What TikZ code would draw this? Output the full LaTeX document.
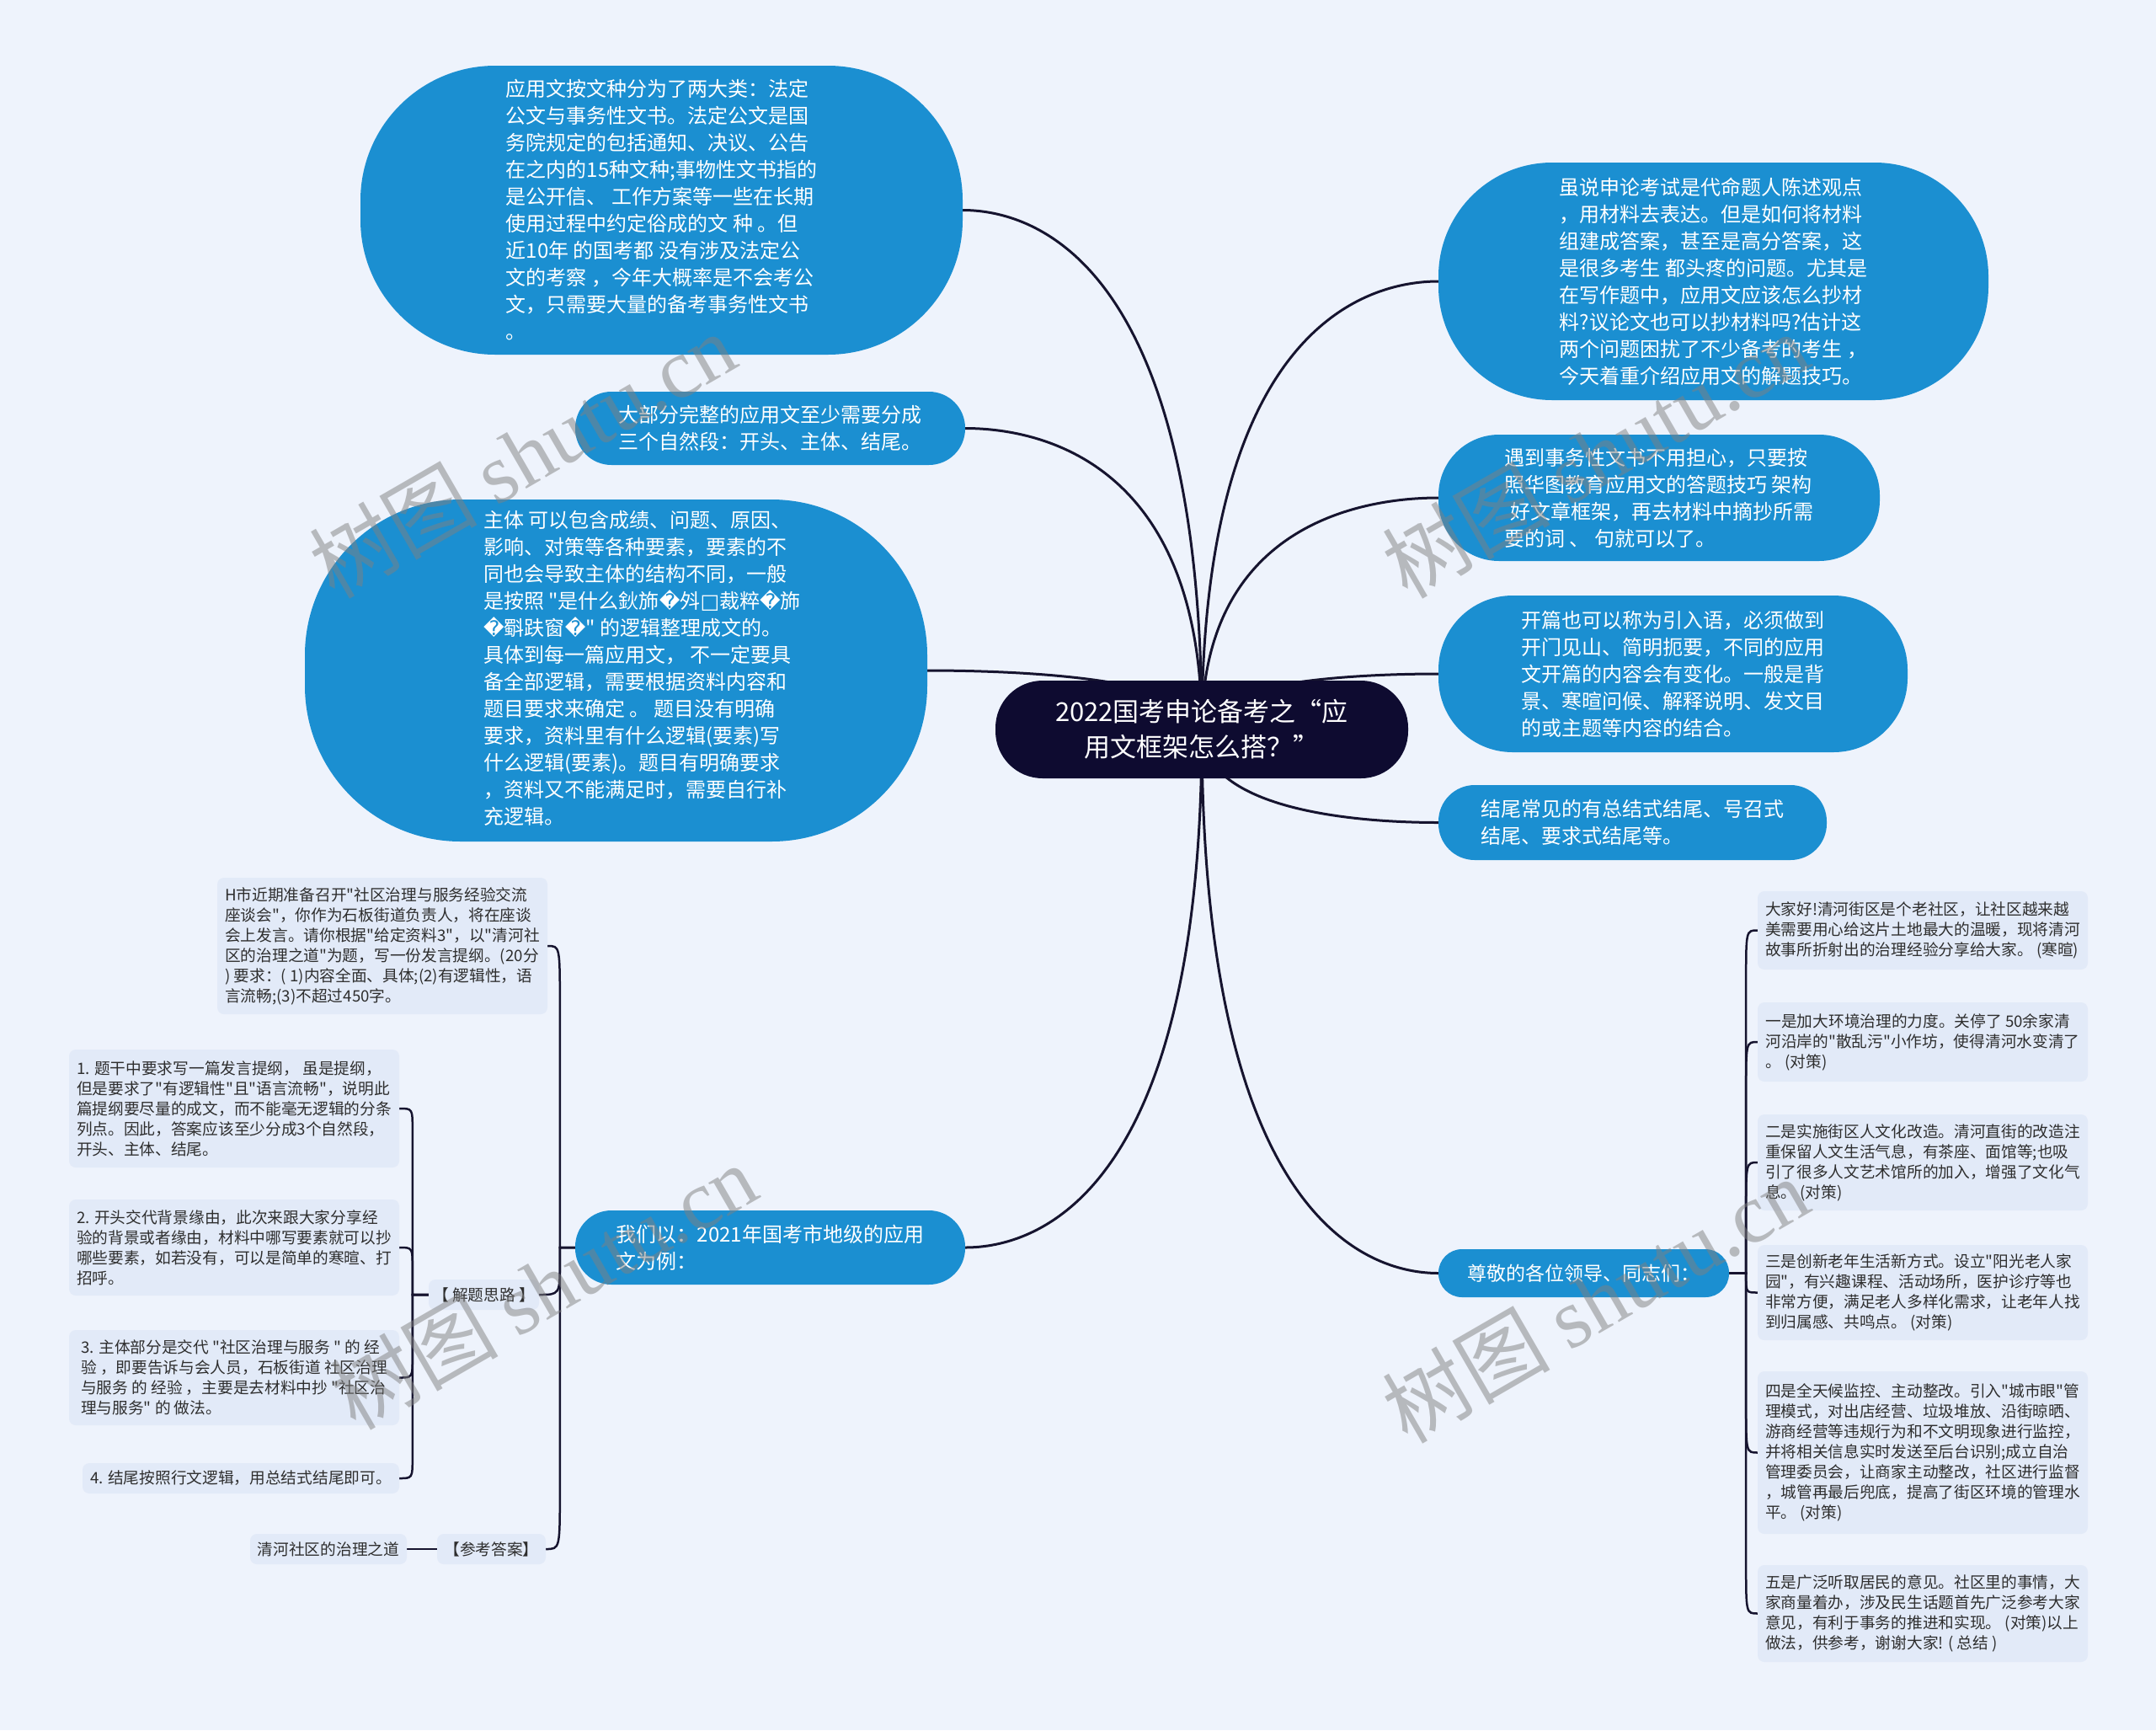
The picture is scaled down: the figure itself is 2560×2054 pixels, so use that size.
\documentclass[tikz,border=0pt]{standalone}
\usepackage{fontspec}
\newfontfamily\cjk{Noto Sans CJK SC}
\setmainfont{Noto Sans CJK SC}
\newfontfamily\dejavu{DejaVu Sans}
\newfontfamily\wmlatin{Liberation Serif}
\usetikzlibrary{calc}
\definecolor{bgc}{HTML}{EEF3FC}
\definecolor{bubc}{HTML}{1B8FD1}
\definecolor{rootc}{HTML}{0E0B30}
\definecolor{leafc}{HTML}{E2EAF8}
\definecolor{linec}{HTML}{16142F}
\definecolor{txtc}{HTML}{2E2E2E}
\pgfdeclarelayer{bgl}
\pgfdeclarelayer{lnl}
\pgfsetlayers{bgl,lnl,main}
\newcommand\repch{{\dejavu\char"FFFD}}
\newcommand\tofuch{{\dejavu\char"25A1}}
\newcommand\rbranch[2]{\draw[link] (#1) .. controls ($(#1)!0.9!(#1 |- #2)$) and ($(#2)!0.3!(#2 -| #1)$) .. (#2);}
\newcommand\sbranch[4]{\draw[sublink] (#1) -- (#2) -- ($(#2 |- #3)+(0,#4)$) .. controls (#2 |- #3) .. (#3);}
\begin{document}
\begin{tikzpicture}[x=1pt,y=-1pt,
  bub/.style={fill=bubc,text=white,align=left,inner sep=0pt,font=\cjk\fontsize{24}{32}\selectfont},
  rootn/.style={fill=rootc,text=white,align=center,inner sep=0pt,rounded corners=56pt,minimum width=490pt,minimum height=116pt,font=\cjk\fontsize{31}{42}\selectfont},
  leaf/.style={fill=leafc,text=txtc,align=left,inner sep=0pt,rounded corners=8pt,font=\cjk\fontsize{18.7}{24}\selectfont},
  link/.style={draw=linec,line width=3pt},
  sublink/.style={draw=linec,line width=2.5pt},
  wm/.style={text=gray,text opacity=0.5,rotate=30,font=\cjk\fontsize{100}{100}\selectfont}
]
\begin{pgfonlayer}{bgl}
\fill[bgc] (0,0) rectangle (2560,2054);
\end{pgfonlayer}
\useasboundingbox (0,0) rectangle (2560,2054);

% root
\node[rootn] (root) at (1427,866) {2022国考申论备考之“应\\用文框架怎么搭？”};

% left bubbles
\node[bub,minimum width=715pt,minimum height=343pt,rounded corners=160pt] (b1) at (785.5,249.5) {应用文按文种分为了两大类：法定\\公文与事务性文书。法定公文是国\\务院规定的包括通知、决议、公告\\在之内的15种文种;事物性文书指的\\是公开信、 工作方案等一些在长期\\使用过程中约定俗成的文 种 。但\\近10年 的国考都 没有涉及法定公\\文的考察 ，今年大概率是不会考公\\文，只需要大量的备考事务性文书\\。};
\node[bub,minimum width=463pt,minimum height=87pt,rounded corners=43pt] (b2) at (914.5,508.5) {大部分完整的应用文至少需要分成\\三个自然段：开头、主体、结尾。};
\node[bub,minimum width=739pt,minimum height=406pt,rounded corners=185pt] (b3) at (731.5,796) {\hspace*{62pt}\begin{tabular}{@{}l@{}}主体 可以包含成绩、问题、原因、\\影响、对策等各种要素，要素的不\\同也会导致主体的结构不同，一般\\是按照 "是什么鈥斾\repch{}斘\tofuch{}裁粹\repch{}斾\\\repch{}斣趺窗\repch{}" 的逻辑整理成文的。\\具体到每一篇应用文， 不一定要具\\备全部逻辑，需要根据资料内容和\\题目要求来确定 。 题目没有明确\\要求，资料里有什么逻辑(要素)写\\什么逻辑(要素)。题目有明确要求\\，资料又不能满足时，需要自行补\\充逻辑。\end{tabular}};
\node[bub,minimum width=463pt,minimum height=88pt,rounded corners=43pt] (b4) at (914.5,1481) {我们以：2021年国考市地级的应用\\文为例：};

% right bubbles
\node[bub,minimum width=653pt,minimum height=282pt,rounded corners=135pt] (b5) at (2034.5,334) {虽说申论考试是代命题人陈述观点\\，用材料去表达。但是如何将材料\\组建成答案，甚至是高分答案，这\\是很多考生 都头疼的问题。尤其是\\在写作题中，应用文应该怎么抄材\\料?议论文也可以抄材料吗?估计这\\两个问题困扰了不少备考的考生 ，\\今天着重介绍应用文的解题技巧。};
\node[bub,minimum width=524pt,minimum height=150pt,rounded corners=72pt] (b6) at (1970,591) {遇到事务性文书不用担心，只要按\\照华图教育应用文的答题技巧 架构\\\hspace*{0.3em}好文章框架，再去材料中摘抄所需\\要的词 、 句就可以了。};
\node[bub,minimum width=557pt,minimum height=186pt,rounded corners=88pt] (b7) at (1986.5,800) {开篇也可以称为引入语，必须做到\\开门见山、简明扼要，不同的应用\\文开篇的内容会有变化。一般是背\\景、寒暄问候、解释说明、发文目\\的或主题等内容的结合。};
\node[bub,minimum width=461pt,minimum height=89pt,rounded corners=43pt] (b8) at (1938.5,976.5) {结尾常见的有总结式结尾、号召式\\结尾、要求式结尾等。};
\node[bub,minimum width=345pt,minimum height=57pt,rounded corners=28pt,font=\cjk\fontsize{23}{30}\selectfont] (b9) at (1880.5,1511.5) {尊敬的各位领导、同志们：};

% left subtree
\node[leaf,minimum width=392pt,minimum height=162pt] (hq) at (454,1123) {H市近期准备召开"社区治理与服务经验交流\\座谈会"，你作为石板街道负责人，将在座谈\\会上发言。请你根据"给定资料3"，以"清河社\\区的治理之道"为题，写一份发言提纲。(20分\\) 要求：( 1)内容全面、具体;(2)有逻辑性，语\\言流畅;(3)不超过450字。};
\node[leaf,minimum width=131pt,minimum height=36pt] (jt) at (574.5,1537) {【 解题思路 】};
\node[leaf,minimum width=129pt,minimum height=36pt] (ck) at (583.5,1839) {【参考答案】};
\node[leaf,minimum width=186pt,minimum height=36pt] (qh) at (390,1839) {清河社区的治理之道};
\node[leaf,minimum width=392pt,minimum height=140pt] (i1) at (278,1316) {1. 题干中要求写一篇发言提纲， 虽是提纲，\\但是要求了"有逻辑性"且"语言流畅"，说明此\\篇提纲要尽量的成文，而不能毫无逻辑的分条\\列点。因此，答案应该至少分成3个自然段，\\开头、主体、结尾。};
\node[leaf,minimum width=392pt,minimum height=114pt] (i2) at (278,1481) {2. 开头交代背景缘由，此次来跟大家分享经\\验的背景或者缘由，材料中哪写要素就可以抄\\哪些要素，如若没有，可以是简单的寒暄、打\\招呼。};
\node[leaf,minimum width=392pt,minimum height=113pt] (i3) at (278,1635.5) {3. 主体部分是交代 "社区治理与服务 " 的 经\\验 ，即要告诉与会人员，石板街道 社区治理\\与服务 的 经验 ，主要是去材料中抄 "社区治\\理与服务" 的 做法。};
\node[leaf,minimum width=376pt,minimum height=36pt] (i4) at (286,1755) {4. 结尾按照行文逻辑，用总结式结尾即可。};

% right subtree
\node[leaf,minimum width=392pt,minimum height=93pt] (c1) at (2283,1104.5) {大家好!清河街区是个老社区，让社区越来越\\美需要用心给这片土地最大的温暖，现将清河\\故事所折射出的治理经验分享给大家。 (寒暄)};
\node[leaf,minimum width=392pt,minimum height=94pt] (c2) at (2283,1237) {一是加大环境治理的力度。关停了 50余家清\\河沿岸的"散乱污"小作坊，使得清河水变清了\\。 (对策)};
\node[leaf,minimum width=392pt,minimum height=114pt] (c3) at (2283,1380) {二是实施街区人文化改造。清河直街的改造注\\重保留人文生活气息，有茶座、面馆等;也吸\\引了很多人文艺术馆所的加入，增强了文化气\\息。 (对策)};
\node[leaf,minimum width=392pt,minimum height=113pt] (c4) at (2283,1534.5) {三是创新老年生活新方式。设立"阳光老人家\\园"，有兴趣课程、活动场所，医护诊疗等也\\非常方便，满足老人多样化需求，让老年人找\\到归属感、共鸣点。 (对策)};
\node[leaf,minimum width=392pt,minimum height=193pt] (c5) at (2283,1724.5) {四是全天候监控、主动整改。引入"城市眼"管\\理模式，对出店经营、垃圾堆放、沿街晾晒、\\游商经营等违规行为和不文明现象进行监控，\\并将相关信息实时发送至后台识别;成立自治\\管理委员会，让商家主动整改，社区进行监督\\，城管再最后兜底，提高了街区环境的管理水\\平。 (对策)};
\node[leaf,minimum width=392pt,minimum height=115pt] (c6) at (2283,1915.5) {五是广泛听取居民的意见。社区里的事情，大\\家商量着办，涉及民生话题首先广泛参考大家\\意见，有利于事务的推进和实现。 (对策)以上\\做法，供参考，谢谢大家! ( 总结 )};

\coordinate (lt) at ($(b4.west)+(-18,0)$);
\coordinate (jtt) at ($(jt.west)+(-19,0)$);
\coordinate (rt) at ($(b9.east)+(20,0)$);

\begin{pgfonlayer}{lnl}
\rbranch{root.center}{b1.east}
\rbranch{root.center}{b2.east}
\rbranch{root.center}{b3.east}
\rbranch{root.center}{b4.east}
\rbranch{root.center}{b5.west}
\rbranch{root.center}{b6.west}
\rbranch{root.center}{b7.west}
\rbranch{root.center}{b8.west}
\rbranch{root.center}{b9.west}
\sbranch{b4.west}{lt}{hq.east}{70}
\sbranch{b4.west}{lt}{jt.east}{-40}
\sbranch{b4.west}{lt}{ck.east}{-70}
\draw[sublink] (qh.east) -- (ck.west);
\sbranch{jt.west}{jtt}{i1.east}{25}
\sbranch{jt.west}{jtt}{i2.east}{25}
\sbranch{jt.west}{jtt}{i3.east}{-25}
\sbranch{jt.west}{jtt}{i4.east}{-25}
\sbranch{b9.east}{rt}{c1.west}{60}
\sbranch{b9.east}{rt}{c2.west}{60}
\sbranch{b9.east}{rt}{c3.west}{60}
\sbranch{b9.east}{rt}{c4.west}{-20}
\sbranch{b9.east}{rt}{c5.west}{-60}
\sbranch{b9.east}{rt}{c6.west}{-60}
\end{pgfonlayer}

% watermarks
\node[wm] (w1) at (620,540) {树图 {\wmlatin shutu.cn}};
\node[wm] (w2) at (1894,540) {树图 {\wmlatin shutu.cn}};
\node[wm] (w3) at (645,1527) {树图 {\wmlatin shutu.cn}};
\node[wm] (w4) at (1894,1543) {树图 {\wmlatin shutu.cn}};
\end{tikzpicture}
\end{document}
